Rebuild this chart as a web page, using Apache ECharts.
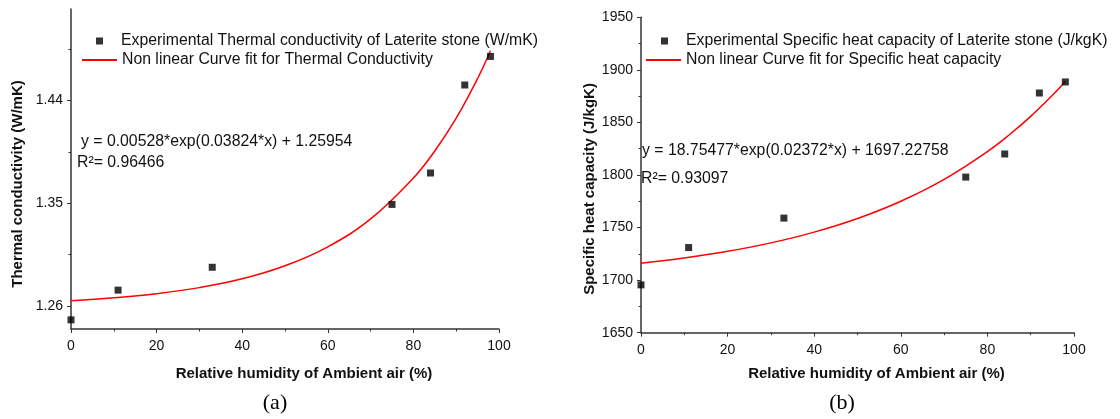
<!DOCTYPE html>
<html>
<head>
<meta charset="utf-8">
<title>Laterite stone: thermal conductivity and specific heat vs humidity</title>
<script src="https://cdn.jsdelivr.net/npm/echarts@6/dist/echarts.min.js"></script>
<style>
  html, body { margin: 0; padding: 0; background: #ffffff; }
  #chart { width: 1120px; height: 419px; }
</style>
</head>
<body>
<div id="chart"></div>
<script>
// Relative humidity of ambient air (%) at which the samples were measured
const humidity = [0, 11, 33, 75, 84, 92, 98];

// Measured thermal conductivity (W/mK)
const conductivity = [1.248, 1.274, 1.294, 1.349, 1.3765, 1.4535, 1.4785];

// Measured specific heat capacity (J/kgK)
const heatCapacity = [1695.5, 1731, 1759, 1798, 1820, 1878, 1888.5];

// Fitted exponential curves, sampled along the humidity range
const fitHumidity = [0, 10, 20, 30, 40, 50, 60, 70, 80, 85, 90, 95, 98];
const conductivityFit = [1.2648, 1.2673, 1.2709, 1.2762, 1.2839, 1.2953, 1.3119,
                         1.3363, 1.3721, 1.3958, 1.4245, 1.4592, 1.4835];
const heatCapacityFit = [1715.98, 1721.00, 1727.37, 1735.43, 1745.66, 1758.63, 1775.07,
                         1795.90, 1822.32, 1838.07, 1855.80, 1875.77, 1888.94];

// Tick values of the conductivity axis
const conductivityTicks = [1.26, 1.35, 1.44];
const conductivityMinorTicks = [1.305, 1.395, 1.485];

const legendNames = {
  kExp: 'Experimental Thermal conductivity of Laterite stone (W/mK)',
  kFit: 'Non linear Curve fit for Thermal Conductivity',
  cExp: 'Experimental Specific heat capacity of Laterite stone (J/kgK)',
  cFit: 'Non linear Curve fit for Specific heat capacity'
};

const FONT = 'Liberation Sans, Arial, sans-serif';
const INK = '#111';
const TEXT_SIZE = 15.8;

const pairs = (xs, ys) => xs.map((x, i) => [x, ys[i]]);

const axisLineStyle = { lineStyle: { color: '#333', width: 1.5 } };

function xAxisFor(gridIndex, nameGap) {
  return {
    type: 'value', gridIndex, min: 0, max: 100, interval: 20,
    name: 'Relative humidity of Ambient air (%)',
    nameLocation: 'middle', nameGap,
    nameTextStyle: { fontFamily: FONT, fontWeight: 'bold', fontSize: 15, color: INK, padding: [0, 0, 0, 38] },
    axisLine: axisLineStyle,
    axisTick: { show: true, inside: false, length: 4, lineStyle: { color: '#333' } },
    minorTick: { show: true, splitNumber: 2, length: 2.5, lineStyle: { color: '#333' } },
    axisLabel: { fontFamily: FONT, fontSize: 14, color: INK, margin: 10 },
    splitLine: { show: false }
  };
}

function legendFor(name, left, top, isLine) {
  return {
    data: [{ name, icon: 'rect' }],
    orient: 'vertical', left, top, padding: 0,
    itemWidth: isLine ? 35 : 7, itemHeight: isLine ? 2 : 7,
    textStyle: { fontFamily: FONT, fontSize: TEXT_SIZE, color: INK, padding: isLine ? 0 : [0, 0, 0, 13] }
  };
}

const chart = echarts.init(document.getElementById('chart'), null, { renderer: 'canvas' });

chart.setOption({
  backgroundColor: '#ffffff',
  animation: false,
  grid: [
    { left: 71, top: 9, width: 428, height: 320 },
    { left: 641, top: 17.3, width: 433, height: 315.4 }
  ],
  xAxis: [xAxisFor(0, 37), xAxisFor(1, 34)],
  yAxis: [
    {
      type: 'value', gridIndex: 0, min: 1.24, max: 1.52,
      name: 'Thermal conductivity (W/mK)',
      nameLocation: 'middle', nameGap: 46, nameRotate: 90,
      nameTextStyle: { fontFamily: FONT, fontWeight: 'bold', fontSize: 15, color: INK, padding: [0, 30, 0, 0] },
      axisLine: { show: true, ...axisLineStyle },
      axisTick: { show: true, inside: false, length: 4, customValues: conductivityTicks, lineStyle: { color: '#333' } },
      axisLabel: { fontFamily: FONT, fontSize: 14, color: INK, margin: 8,
                   customValues: conductivityTicks, formatter: v => v.toFixed(2) },
      splitLine: { show: false }
    },
    {
      // minor ticks of the conductivity axis
      type: 'value', gridIndex: 0, min: 1.24, max: 1.52, position: 'left',
      axisLine: { show: false },
      axisTick: { show: true, inside: false, length: 2.5, customValues: conductivityMinorTicks, lineStyle: { color: '#333' } },
      axisLabel: { show: false },
      splitLine: { show: false }
    },
    {
      type: 'value', gridIndex: 1, min: 1650, max: 1950, interval: 50,
      name: 'Specific heat capacity (J/kgK)',
      nameLocation: 'middle', nameGap: 44, nameRotate: 90,
      nameTextStyle: { fontFamily: FONT, fontWeight: 'bold', fontSize: 15, color: INK, padding: [0, 28, 0, 0] },
      axisLine: { show: true, ...axisLineStyle },
      axisTick: { show: true, inside: false, length: 4, lineStyle: { color: '#333' } },
      minorTick: { show: true, splitNumber: 2, length: 2.5, lineStyle: { color: '#333' } },
      axisLabel: { fontFamily: FONT, fontSize: 14, color: INK, margin: 8, formatter: v => String(v) },
      splitLine: { show: false }
    }
  ],
  legend: [
    legendFor(legendNames.kExp, 96, 33, false),
    legendFor(legendNames.kFit, 82, 52, true),
    legendFor(legendNames.cExp, 661, 33, false),
    legendFor(legendNames.cFit, 646, 52, true)
  ],
  series: [
    {
      name: legendNames.kFit, type: 'line', xAxisIndex: 0, yAxisIndex: 0,
      data: pairs(fitHumidity, conductivityFit), smooth: 0.4, symbol: 'none',
      lineStyle: { color: '#ff0000', width: 1.5 }, itemStyle: { color: '#ff0000' }, z: 2
    },
    {
      name: legendNames.kExp, type: 'scatter', xAxisIndex: 0, yAxisIndex: 0,
      data: pairs(humidity, conductivity), symbol: 'rect', symbolSize: 7,
      itemStyle: { color: '#000' }, z: 3
    },
    {
      name: legendNames.cFit, type: 'line', xAxisIndex: 1, yAxisIndex: 2,
      data: pairs(fitHumidity, heatCapacityFit), smooth: 0.4, symbol: 'none',
      lineStyle: { color: '#ff0000', width: 1.5 }, itemStyle: { color: '#ff0000' }, z: 2
    },
    {
      name: legendNames.cExp, type: 'scatter', xAxisIndex: 1, yAxisIndex: 2,
      data: pairs(humidity, heatCapacity), symbol: 'rect', symbolSize: 7,
      itemStyle: { color: '#000' }, z: 3
    }
  ],
  graphic: [
    { type: 'text', x: 81, y: 142, style: { text: 'y = 0.00528*exp(0.03824*x) + 1.25954', font: TEXT_SIZE + 'px ' + FONT, fill: INK, verticalAlign: 'middle' } },
    { type: 'text', x: 77, y: 163, style: { text: 'R\u00b2= 0.96466', font: TEXT_SIZE + 'px ' + FONT, fill: INK, verticalAlign: 'middle' } },
    { type: 'text', x: 642, y: 151, style: { text: 'y = 18.75477*exp(0.02372*x) + 1697.22758', font: TEXT_SIZE + 'px ' + FONT, fill: INK, verticalAlign: 'middle' } },
    { type: 'text', x: 641, y: 179, style: { text: 'R\u00b2= 0.93097', font: TEXT_SIZE + 'px ' + FONT, fill: INK, verticalAlign: 'middle' } },
    { type: 'text', x: 275, y: 403, style: { text: '(a)', font: '22px Liberation Serif, Times New Roman, serif', fill: '#000', align: 'center', verticalAlign: 'middle' } },
    { type: 'text', x: 842, y: 403, style: { text: '(b)', font: '22px Liberation Serif, Times New Roman, serif', fill: '#000', align: 'center', verticalAlign: 'middle' } }
  ]
});
</script>
</body>
</html>
